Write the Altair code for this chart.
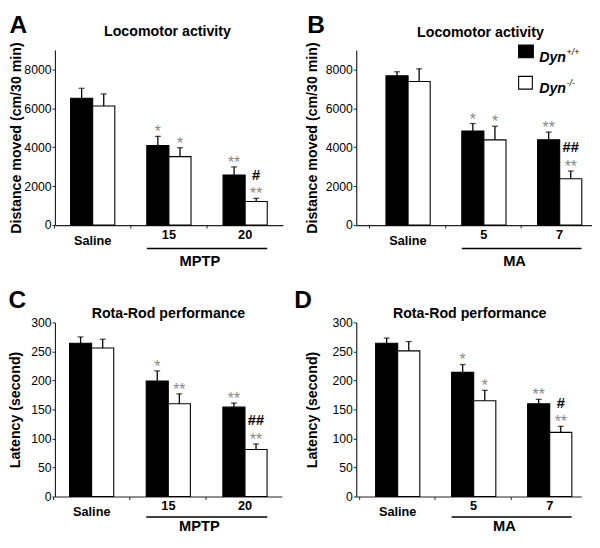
import altair as alt
import pandas as pd

FONT = "Liberation Sans"
WT, KO = "Dyn+/+", "Dyn-/-"

# ---------------- data ----------------
# A: MPTP, locomotor activity
a_groups = ["Saline", "15", "20"]
a_wt_mean = [6520, 4090, 2570]
a_wt_sem = [510, 470, 420]
a_ko_mean = [6120, 3520, 1210]
a_ko_sem = [620, 455, 165]
a_wt_sig = ["", "*", "**"]
a_ko_sig = ["", "*", "**"]
a_hash = ["", "", "#"]

# B: MA, locomotor activity
b_groups = ["Saline", "5", "7"]
b_wt_mean = [7670, 4830, 4380]
b_wt_sem = [210, 390, 400]
b_ko_mean = [7380, 4380, 2380]
b_ko_sem = [650, 700, 400]
b_wt_sig = ["", "*", "**"]
b_ko_sig = ["", "*", "**"]
b_hash = ["", "", "##"]

# C: MPTP, rota-rod
c_groups = ["Saline", "15", "20"]
c_wt_mean = [264, 199, 154]
c_wt_sem = [11, 17.5, 7]
c_ko_mean = [256, 160, 81]
c_ko_sem = [15, 17, 9.5]
c_wt_sig = ["", "*", "**"]
c_ko_sig = ["", "**", "**"]
c_hash = ["", "", "##"]

# D: MA, rota-rod
d_groups = ["Saline", "5", "7"]
d_wt_mean = [264, 214, 160]
d_wt_sem = [9, 13.5, 7.5]
d_ko_mean = [251, 165, 110.5]
d_ko_sem = [16, 18, 10.5]
d_wt_sig = ["", "*", "**"]
d_ko_sig = ["", "*", "**"]
d_hash = ["", "", "#"]

loco_ticks = [0, 2000, 4000, 6000, 8000]
rota_ticks = [0, 50, 100, 150, 200, 250, 300]


def panel(groups, wt_mean, wt_sem, ko_mean, ko_sem, wt_sig, ko_sig, hashes,
          ymax, yticks, ytitle, title, letter, treatment, w, h, po, al,
          letter_x, letter_y, title_x, title_y, ytitle_x, below, legend=False):
    sal_y, dose_y, line_y, trt_y = below
    rows = []
    for i, g in enumerate(groups):
        rows.append(dict(grp=g, geno=WT, mean=wt_mean[i], top=wt_mean[i] + wt_sem[i],
                         sig=wt_sig[i], hash=""))
        rows.append(dict(grp=g, geno=KO, mean=ko_mean[i], top=ko_mean[i] + ko_sem[i],
                         sig=ko_sig[i], hash=hashes[i]))
    df = pd.DataFrame(rows)

    xscale = alt.Scale(paddingInner=0.42, paddingOuter=po, align=al)
    xaxis = alt.Axis(title=None, labels=False, tickSize=3, bandPosition=-0.367,
                     domainWidth=1.2, tickWidth=1)
    yscale = alt.Scale(domain=[0, ymax], nice=False, zero=True)
    yaxis = alt.Axis(title=ytitle, values=yticks, format="d", tickSize=3, labelPadding=1,
                     labelFontSize=12.5, titleFontSize=14.5, titleFontWeight="bold",
                     titleX=ytitle_x, titleBaseline="bottom", domainWidth=1.2,
                     tickWidth=1)

    def X(field="grp", **kw):
        return alt.X(f"{field}:N", sort=groups, scale=xscale, axis=xaxis, **kw)

    def Y(field):
        return alt.Y(f"{field}:Q", scale=yscale, axis=yaxis)

    xo = alt.XOffset("geno:N", sort=[WT, KO], scale=alt.Scale(paddingInner=0, paddingOuter=0))
    fill = alt.Fill("geno:N", scale=alt.Scale(domain=[WT, KO], range=["black", "white"]),
                    legend=None)

    base = alt.Chart(df).encode(x=X(), xOffset=xo)
    bars = base.mark_bar(stroke="black", strokeWidth=1.1).encode(y=Y("mean"), fill=fill)
    err = base.mark_rule(color="black", strokeWidth=1.3).encode(y=Y("mean"), y2=alt.Y2("top:Q"))
    caps = base.mark_tick(color="black", thickness=1.3, size=6, orient="horizontal").encode(y=Y("top"))
    stars = base.mark_text(color="#8a8a8a", fontSize=16, baseline="middle", dy=-4).encode(
        y=Y("top"), text="sig:N")
    hashm = base.mark_text(color="black", fontSize=15, fontWeight="bold", baseline="middle",
                           dy=-24).encode(y=Y("top"), text="hash:N")

    labdf = pd.DataFrame({"grp": groups})
    lab_sal = alt.Chart(labdf).transform_filter(alt.datum.grp == "Saline").mark_text(
        fontSize=13, fontWeight="bold", baseline="middle").encode(
        x=X(), y=alt.value(h + sal_y), text="grp:N")
    lab_dose = alt.Chart(labdf).transform_filter(alt.datum.grp != "Saline").mark_text(
        fontSize=13, fontWeight="bold", baseline="middle").encode(
        x=X(), y=alt.value(h + dose_y), text="grp:N")

    linedf = pd.DataFrame({"grp": [groups[1]], "grp2": [groups[2]], "lab": [treatment]})
    line = alt.Chart(linedf).mark_rule(color="black", strokeWidth=1.6).encode(
        x=X(bandPosition=0), x2=alt.X2("grp2", bandPosition=1), y=alt.value(h + line_y))
    tlab = alt.Chart(linedf).mark_text(fontSize=15, fontWeight="bold", baseline="middle",
                                       dx=9).encode(
        x=X(bandPosition=1), y=alt.value(h + trt_y), text="lab:N")

    tdf = pd.DataFrame({"letter": [letter], "title": [title]})
    let = alt.Chart(tdf).mark_text(fontSize=25, fontWeight="bold", align="left",
                                   baseline="alphabetic").encode(
        x=alt.value(letter_x), y=alt.value(letter_y), text="letter:N")
    ttl = alt.Chart(tdf).mark_text(fontSize=14.5, fontWeight="bold", baseline="middle").encode(
        x=alt.value(title_x), y=alt.value(title_y), text="title:N")

    layers = [bars, err, caps, stars, hashm, lab_sal, lab_dose, line, tlab, let, ttl]

    if legend:
        ldf = pd.DataFrame({"geno": [WT, KO], "name": ["Dyn", "Dyn"], "sup": ["+/+", "-/-"]})
        sq1 = alt.Chart(ldf).transform_filter(alt.datum.geno == WT).mark_rect(
            stroke="black", strokeWidth=1.1).encode(
            x=alt.value(166), x2=alt.value(181), y=alt.value(-5), y2=alt.value(8), fill=fill)
        sq2 = alt.Chart(ldf).transform_filter(alt.datum.geno == KO).mark_rect(
            stroke="black", strokeWidth=1.1).encode(
            x=alt.value(166), x2=alt.value(180), y=alt.value(27), y2=alt.value(40), fill=fill)
        n1 = alt.Chart(ldf).transform_filter(alt.datum.geno == WT).mark_text(
            fontSize=14.5, fontWeight="bold", fontStyle="italic", align="left").encode(
            x=alt.value(187), y=alt.value(8), text="name:N")
        n2 = alt.Chart(ldf).transform_filter(alt.datum.geno == KO).mark_text(
            fontSize=14.5, fontWeight="bold", fontStyle="italic", align="left").encode(
            x=alt.value(187), y=alt.value(40), text="name:N")
        s1 = alt.Chart(ldf).transform_filter(alt.datum.geno == WT).mark_text(
            fontSize=9, fontStyle="italic", align="left").encode(
            x=alt.value(215), y=alt.value(2), text="sup:N")
        s2 = alt.Chart(ldf).transform_filter(alt.datum.geno == KO).mark_text(
            fontSize=9, fontStyle="italic", align="left").encode(
            x=alt.value(215), y=alt.value(34), text="sup:N")
        layers += [sq1, sq2, n1, n2, s1, s2]

    return alt.layer(*layers).properties(width=w, height=h)


ROW1_BELOW = (16, 10, 24, 37)
ROW2_BELOW = (16, 10, 21, 30)

A = panel(a_groups, a_wt_mean, a_wt_sem, a_ko_mean, a_ko_sem, a_wt_sig, a_ko_sig, a_hash,
          9000, loco_ticks, "Distance moved (cm/30 min)", "Locomotor activity", "A", "MPTP",
          233, 179, 0.205, 0.5, -46.5, -17, 115, -18, -32, ROW1_BELOW)
B = panel(b_groups, b_wt_mean, b_wt_sem, b_ko_mean, b_ko_sem, b_wt_sig, b_ko_sig, b_hash,
          9000, loco_ticks, "Distance moved (cm/30 min)", "Locomotor activity", "B", "MA",
          241, 179, 0.265, 0.74, -50, -17, 127, -17, -38, ROW1_BELOW, legend=True)
C = panel(c_groups, c_wt_mean, c_wt_sem, c_ko_mean, c_ko_sem, c_wt_sig, c_ko_sig, c_hash,
          300, rota_ticks, "Latency (second)", "Rota-Rod performance", "C", "MPTP",
          232, 178, 0.19, 0.5, -47.5, -15, 116, -9, -33, ROW2_BELOW)
D = panel(d_groups, d_wt_mean, d_wt_sem, d_ko_mean, d_ko_sem, d_wt_sig, d_ko_sig, d_hash,
          300, rota_ticks, "Latency (second)", "Rota-Rod performance", "D", "MA",
          230, 178, 0.19, 0.67, -63.5, -15, 116, -9, -38, ROW2_BELOW)

chart = alt.concat(A, B, C, D, columns=2, spacing={"row": 19.5, "column": 11}).properties(
    padding={"left": 0, "top": 0, "right": 0, "bottom": 0},
    autosize=alt.AutoSizeParams(type="pad"),
).configure(padding=0).configure_view(stroke=None).configure_axis(
    labelFont=FONT, titleFont=FONT, grid=False, domainColor="#222", tickColor="#222",
    labelColor="black", titleColor="black"
).configure_text(font=FONT, color="black")

chart.save("out.html", embed_options={"renderer": "svg", "actions": False})
